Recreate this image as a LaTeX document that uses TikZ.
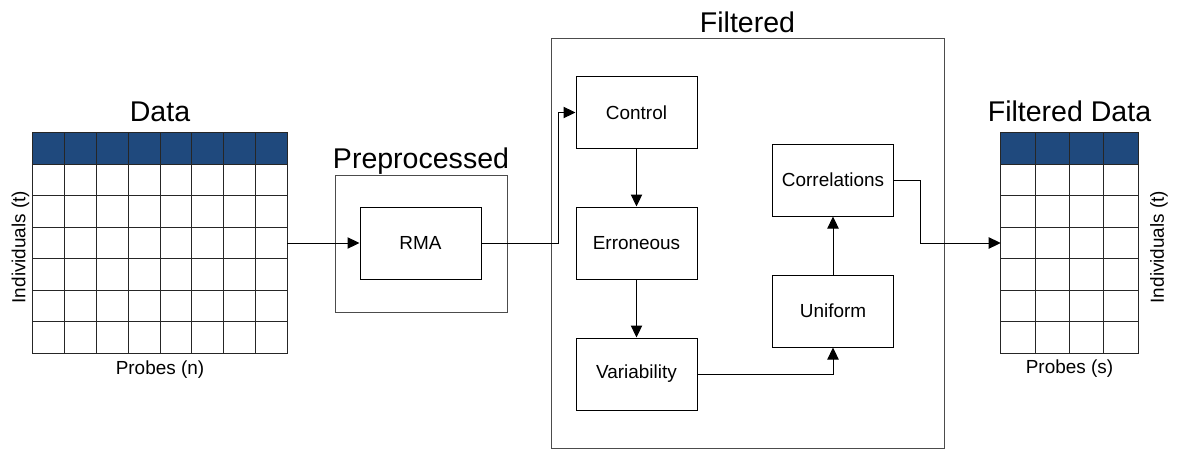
\documentclass[tikz,border=0pt]{standalone}
\usepackage{fontspec}
\setmainfont{Liberation Sans}
\usetikzlibrary{arrows.meta,positioning}
\definecolor{hdrblue}{RGB}{31,73,125}

\begin{document}
\begin{tikzpicture}[x=0.75pt,y=-0.75pt,
	stage/.style={draw=black,line width=0.75pt,inner sep=0pt,
		minimum width=90.75pt,minimum height=54pt,
		font=\fontsize{14.2}{17}\selectfont},
	frame/.style={draw=black!70,line width=0.75pt,inner sep=0pt},
	tablebox/.style={inner sep=0pt},
	title/.style={inner sep=0pt,text depth=0pt,font=\fontsize{21.4}{25}\selectfont},
	axis/.style={inner sep=0pt,font=\fontsize{14.2}{17}\selectfont},
	gridline/.style={draw=black!85,line width=0.75pt},
	flow/.style={line width=0.75pt,-{Triangle[length=9pt,width=8.5pt]}}]
	\useasboundingbox (0,0) rectangle (1177,450);

	% input table
	\node[tablebox,minimum width=190.5pt,minimum height=165.75pt] (data) at (160,243) {};
	\fill[hdrblue] (data.north west) rectangle ++(254,31.57);
	\foreach \i in {1,...,7}
		\draw[gridline] (33+\i*31.75,132.5) -- (33+\i*31.75,353.5);
	\foreach \j in {1,...,6}
		\draw[gridline] (33,132.5+\j*31.57) -- (287,132.5+\j*31.57);
	\draw[gridline] (data.north west) rectangle (data.south east);
	\node[title,above=7.5pt of data] (datattl) {Data};
	\node[axis] (probesn) at (160,370) {Probes (n)};
	\node[axis,rotate=90] (indivl) at (20.5,247) {Individuals (t)};

	% preprocessing
	\node[frame,minimum width=129pt,minimum height=102.75pt] (pre) at (421,243.5) {};
	\node[title,above=4.5pt of pre] (prettl) {Preprocessed};
	\node[stage] (rma) at (420.5,243) {RMA};

	% filtering
	\node[frame,minimum width=294.75pt,minimum height=307.5pt] (filt) at (747.5,243) {};
	\node[title,above=3.75pt of filt] (filtttl) {Filtered};
	\node[stage] (ctrl) at (636.5,112.5) {Control};
	\node[stage] (err) at (636.5,243) {Erroneous};
	\node[stage] (var) at (636.5,374) {Variability};
	\node[stage] (unif) at (833,311) {Uniform};
	\node[stage] (corr) at (833,180) {Correlations};

	% output table
	\node[tablebox,minimum width=102.75pt,minimum height=165.75pt] (fdata) at (1069.5,243) {};
	\fill[hdrblue] (fdata.north west) rectangle ++(137,31.57);
	\foreach \i in {1,...,3}
		\draw[gridline] (1001+\i*34.25,132.5) -- (1001+\i*34.25,353.5);
	\foreach \j in {1,...,6}
		\draw[gridline] (1001,132.5+\j*31.57) -- (1138,132.5+\j*31.57);
	\draw[gridline] (fdata.north west) rectangle (fdata.south east);
	\node[title,above=7.5pt of fdata] (fdatattl) {Filtered Data};
	\node[axis] (probess) at (1069.5,369) {Probes (s)};
	\node[axis,rotate=90] (indivr) at (1159,247) {Individuals (t)};

	% connectors
	\draw[flow] (data.east) -- (rma.west);
	\draw[flow] (rma.east) -- ++(77,0) |- (ctrl.west);
	\draw[flow] (ctrl) -- (err);
	\draw[flow] (err) -- (var);
	\draw[flow] (var.east) -| (unif.south);
	\draw[flow] (unif) -- (corr);
	\draw[flow] (corr.east) -- ++(26,0) |- (fdata.west);
\end{tikzpicture}
\end{document}
